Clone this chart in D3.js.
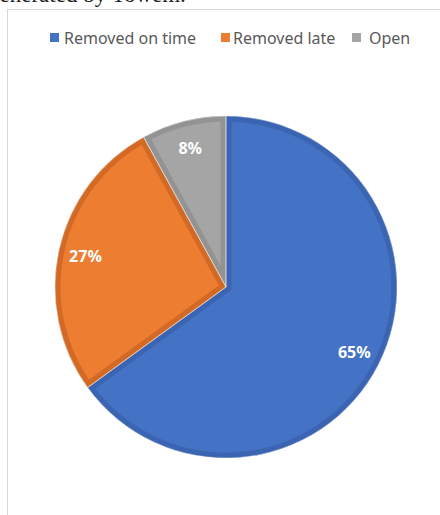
<!DOCTYPE html>
<html>
<head>
<meta charset="utf-8">
<script src="https://cdn.jsdelivr.net/npm/d3@7"></script>
<style>
  html, body { margin: 0; padding: 0; background: #fff; }
  svg { display: block; }
</style>
</head>
<body>
<svg id="chart" width="440" height="515"></svg>
<script>
const categories = ["Removed on time", "Removed late", "Open"];
const values = [65, 27, 8];
const labels = ["65%", "27%", "8%"];
const fillColors = ["#4472C4", "#ED7D31", "#A5A5A5"];
const edgeColors = ["#3B65B2", "#D26A26", "#939393"];

const svg = d3.select("#chart");

// cropped caption text above chart frame
svg.append("text")
  .attr("x", -12).attr("y", 2)
  .attr("font-family", "Liberation Serif, serif")
  .attr("font-size", 23)
  .attr("fill", "#222")
  .text("generated by Towem.");

// chart frame
svg.append("rect")
  .attr("x", 7.5).attr("y", 9.5)
  .attr("width", 460).attr("height", 520)
  .attr("fill", "#fff")
  .attr("stroke", "#D9D9D9")
  .attr("stroke-width", 1);

// legend
const legendSq = [50, 221, 352];
const legendTx = [64, 233, 369];
const legend = svg.append("g");
categories.forEach((c, i) => {
  legend.append("rect").attr("x", legendSq[i]).attr("y", 33).attr("width", 9).attr("height", 9)
    .attr("fill", fillColors[i]);
  legend.append("text").attr("x", legendTx[i]).attr("y", 43.5)
    .attr("font-family", "Noto Sans, sans-serif")
    .attr("font-size", 16)
    .attr("fill", "#595959")
    .text(c);
});

// pie
const cx = 226, cy = 287, R = 171;
const pie = d3.pie().sort(null).value(d => d)(values);
const arc = d3.arc().innerRadius(0).outerRadius(R);
const labelArc = d3.arc().innerRadius(144).outerRadius(144);

const defs = svg.append("defs");
const pg = svg.append("g").attr("transform", `translate(${cx},${cy})`);

pie.forEach((p, i) => {
  defs.append("clipPath").attr("id", "clip" + i)
    .append("path").attr("d", arc(p));
  pg.append("path")
    .attr("d", arc(p))
    .attr("fill", fillColors[i]);
  pg.append("path")
    .attr("d", arc(p))
    .attr("fill", "none")
    .attr("stroke", edgeColors[i])
    .attr("stroke-width", 11)
    .attr("stroke-linejoin", "miter")
    .attr("clip-path", `url(#clip${i})`);
});
// thin light separators
pie.forEach((p, i) => {
  pg.append("path")
    .attr("d", arc(p))
    .attr("fill", "none")
    .attr("stroke", "#f2f2f2")
    .attr("stroke-opacity", 0.6)
    .attr("stroke-width", 0.8);
});

pie.forEach((p, i) => {
  const [x, y] = labelArc.centroid(p);
  pg.append("text")
    .attr("x", x).attr("y", y)
    .attr("text-anchor", "middle")
    .attr("dominant-baseline", "central")
    .attr("font-family", "Noto Sans, sans-serif")
    .attr("font-weight", "bold")
    .attr("font-size", 16)
    .attr("fill", "#fff")
    .text(labels[i]);
});
</script>
</body>
</html>
